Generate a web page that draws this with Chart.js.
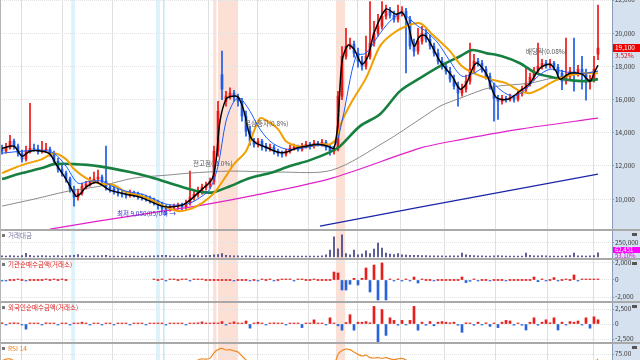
<!DOCTYPE html>
<html lang="ko">
<head>
<meta charset="utf-8">
<title>주가 차트</title>
<script src="https://cdn.jsdelivr.net/npm/chart.js@4.4.1/dist/chart.umd.min.js"></script>
<style>
  html, body { margin: 0; padding: 0; background: #fff; overflow: hidden; }
  body { position: relative; width: 640px; height: 360px; }
  canvas { position: absolute; left: 0; }
  .sep { position: absolute; left: 0; width: 640px; height: 2px; background: #a9a9a9; z-index: 2; }
  .edge { position: absolute; left: 0; top: 0; width: 1px; height: 360px; background: #b5b5b5; z-index: 2; }
</style>
</head>
<body>
<canvas id="price" width="640" height="229" style="top:0"></canvas>
<div class="sep" style="top:229px"></div>
<canvas id="vol" width="640" height="27" style="top:231px"></canvas>
<div class="sep" style="top:258px"></div>
<canvas id="inst" width="640" height="41" style="top:260px"></canvas>
<div class="sep" style="top:301px"></div>
<canvas id="frgn" width="640" height="39" style="top:303px"></canvas>
<div class="sep" style="top:342px"></div>
<canvas id="rsi" width="640" height="56" style="top:344px"></canvas>
<div class="edge"></div>
<script>
// daily candles, index 0..149
var opens = [13010,12890,13130,13490,13190,12770,12410,12890,13070,13010,
  12890,12950,13010,12770,12290,11810,11570,11210,10600,10120,
  10360,10780,10900,11080,11210,11330,11080,10720,10600,10480,
  10360,10300,10240,10360,10300,10180,10120,10060,9940,9820,
  9640,9460,9400,9520,9580,9640,9520,9760,10120,10300,
  10480,10720,10840,11080,12890,17500,15900,16210,16390,16150,
  15900,15000,14100,13490,13310,13490,13190,13070,13130,12890,
  12770,12710,12890,13070,13130,13010,13190,13310,13190,13370,
  13310,13430,13130,12890,13010,16210,18610,19220,19340,18800,
  18310,18010,18610,19400,20000,20420,21020,21330,21080,20840,
  21200,21330,20840,19220,18920,19520,20000,19640,19220,18800,
  18310,18010,17710,17230,16810,16390,16630,17110,17830,18310,
  18190,17830,17410,16810,16080,15900,16080,16020,16140,16020,
  16390,16630,16990,17350,17710,18010,18190,18070,18190,17950,
  17590,17110,17410,17710,17590,17830,17590,17110,17230,18730];
var closes = [12890,13130,13490,13190,12770,12410,12890,13070,13010,12890,
  12950,13010,12770,12290,11810,11570,11210,10600,10120,10360,
  10780,10900,11080,11210,11330,11080,10720,10600,10480,10360,
  10300,10240,10360,10300,10180,10120,10060,9940,9820,9640,
  9460,9400,9520,9580,9640,9520,9760,10120,10300,10480,
  10720,10840,11080,12890,15300,16630,16210,16390,16150,15900,
  15000,14100,13490,13310,13490,13190,13070,13130,12890,12770,
  12710,12890,13070,13130,13010,13190,13310,13190,13370,13310,
  13430,13130,12890,13010,16210,18610,19220,19340,18800,18310,
  18010,18610,19400,20000,20420,21020,21330,21080,20840,21200,
  21330,20840,19220,18920,19520,20000,19640,19220,18800,18310,
  18010,17710,17230,16810,16390,16630,17110,17830,18310,18190,
  17830,17410,16810,16080,15900,16080,16020,16140,16020,16390,
  16630,16990,17350,17710,18010,18190,18070,18190,17950,17590,
  17110,17410,17710,17590,17830,17590,17110,17230,17830,19100];
var highs = [13250,13370,13850,13620,13310,12950,13190,15780,13310,13250,
  13490,13370,13130,12890,12470,12050,11690,11330,10780,10600,
  10960,11080,11330,11630,11750,11450,13190,10900,10780,10660,
  10540,10420,10540,10480,10420,10300,10240,10180,10060,9940,
  9820,9640,9640,9700,9760,9760,9940,11690,10480,10720,
  10900,11020,11270,13190,15900,18920,16500,16700,16560,16330,
  16080,15300,14400,13670,13670,13610,13370,13310,13250,13010,
  12890,13010,13250,13310,13250,13370,13490,13430,13550,13490,
  13610,13550,13250,13130,16500,19200,20300,19700,19520,19100,
  18610,19820,21900,20720,21140,21900,21700,21560,21330,21700,
  21600,21500,21020,19640,20300,20420,20240,19880,19400,19040,
  18550,18250,17950,17470,17050,16930,17470,19400,18730,18490,
  18370,18010,17590,16990,16260,16260,16200,16330,16260,16570,
  16810,18000,17590,17950,19400,18430,18370,18430,18310,18130,
  17770,19700,17950,19700,18070,18610,17830,17470,18610,21700];
var lows = [12710,12770,13010,13010,12590,12230,12290,12770,12890,12710,
  12770,12830,12590,12110,11630,11390,11020,10420,9580,9940,
  10240,10600,10780,10960,11020,10900,10540,10420,10300,10180,
  10120,10060,10120,10120,10000,9940,9880,9760,9640,9400,
  9220,9050,9280,9340,9400,9340,9400,9640,9940,10120,
  10300,10540,10660,10900,12590,16000,15600,16020,15900,15600,
  14700,13790,13250,13130,13130,12950,12890,12890,12710,12590,
  12530,12590,12770,12950,12890,12890,13070,13010,13070,13190,
  13190,12950,12650,12710,12900,16000,18430,19040,18550,17950,
  17770,17830,18430,19220,19820,20240,20840,20900,20660,20660,
  21020,17600,19040,18610,18740,19340,19460,19040,18610,18130,
  17830,17530,17050,16630,15600,16200,16450,16930,17650,18010,
  17650,17230,16630,14700,14800,15720,15840,15900,15840,15900,
  16200,16450,16810,17170,17530,17830,17890,17890,17770,17410,
  16600,16930,17230,16500,17410,16630,15960,16630,17050,18400];

// moving averages (candle index, price)
var ma5Idx = [0,3,5,7,10,12,13.5,16,18.5,19.5,21,23.5,25,27,31,34.5,37.5,40,42,45,
  47,49.5,52.5,53.5,54.5,56,57.5,59,60.5,62,63.5,66,69,71,73.5,76,79,81.5,83,84,
  85,86.5,88,90,91.5,93,96,98.5,100,101.5,103,104.5,106,109.5,112.5,114.5,116,118.5,121,123.5,
  126.5,129.5,132,134.5,137,138.5,139.5,142,145,147,148,149];
var ma5 = [13070,13190,12590,12890,12890,12710,12110,11210,10180,10300,10720,11020,10840,10540,10300,10120,9820,9580,9520,9640,
  9940,10480,11210,12290,14700,16020,16200,16150,15300,13800,13370,13130,12830,12830,13070,13190,13310,13190,13070,14700,
  18310,19280,19040,18130,18610,20000,21450,21140,21260,20540,19220,19820,19820,18310,17410,16630,16930,18190,17590,16140,
  16020,16510,16990,17890,18130,17710,17230,17590,17530,17110,17590,18070];
var ma10Idx = [0,5,10,13,16,19,22,25,28,31,35,38,41,44,47,50,52,54,56,58,
  59.5,62,64,67,71,75,79,83,85,88.5,91,94,97,100,102,104,106,109,112,115,
  118,120,122,125,128,131,134,137,140,143,146,149];
var ma10 = [12770,12890,12950,12770,11990,10960,11080,11080,10720,10480,10300,10000,9700,9640,9760,10180,10600,11990,14700,15900,
  16080,15300,14400,13490,13010,13070,13250,13190,14700,18610,18800,19820,20720,21200,20840,20420,20120,19400,18310,17410,
  17590,17830,17230,16510,16200,16630,17410,17830,17710,17590,17590,17710];
var ma20Idx = [0,5,10,13,16,18,21,24,28,31,35,38,41,44,47,50,53,56,58,61,
  63,64.5,66,69,71,74,77,80,82,83.5,85,87.5,91,94.5,97.5,101,104.5,107.5,112,115,
  118.5,122,126,129.5,132,134.5,138,142,146,149];
var ma20 = [11570,12050,12410,12770,12410,11810,11270,10960,10840,10420,10180,9880,9520,9280,9400,9760,10360,11390,12110,12890,
  14100,14880,14760,14220,13490,13190,13190,13310,13310,13610,14700,15900,17290,19220,19940,20420,20600,19940,18920,18010,
  17530,17230,16990,16510,16390,16630,17110,17470,17590,17590];
var ma60Idx = [0,5,10,13,18,24,32,37,42,47,50,53,57,62,67,72,77,82,84.5,89.5,
  94.5,99.5,104.5,109.5,114.5,117.5,121,125,129.5,133.5,137.5,142,146,149];
var ma60 = [11210,11570,11870,12110,12110,11990,11630,11330,10960,10600,10420,10420,10780,11270,11570,11990,12350,12830,13190,14400,
  15120,16510,17290,18010,18610,18980,18800,18610,18190,17590,17350,17170,17110,17230];
var ma120Idx = [0,8,16.5,24.5,33,41.5,47,57,69.5,82.5,96,104.5,109.5,114.5,122.5,132,137.5,149];
var ma120 = [9580,10000,10480,10780,11270,11450,11570,11690,11630,11750,13490,14820,15600,16080,16750,16990,17290,17710];
var ma240Idx = [12,24,37,50,62,82.5,104.5,112.5,129.5,149];
var ma240 = [8190,8670,9160,9640,10180,11270,13070,13490,14220,14880];
var ma480Idx = [79.5,104.5,149];
var ma480 = [8370,9520,11510];

var volume = [22000,18000,25000,20000,15000,24000,65000,30000,18000,20000,
  26000,19000,17000,21000,23000,18000,20000,26000,30000,45000,
  22000,18000,16000,20000,19000,24000,30000,18000,15000,17000,
  16000,14000,15000,18000,16000,15000,17000,20000,22000,25000,
  28000,30000,20000,17000,16000,18000,20000,35000,24000,22000,
  20000,24000,28000,40000,45000,60000,30000,26000,22000,20000,
  18000,22000,19000,17000,16000,15000,17000,18000,16000,15000,
  16000,17000,15000,14000,16000,18000,17000,15000,16000,18000,
  20000,40000,125000,360000,145000,395000,60000,40000,125000,40000,
  50000,110000,60000,143000,250000,160000,70000,50000,45000,60000,
  40000,35000,30000,28000,30000,26000,24000,22000,20000,22000,
  20000,18000,19000,20000,22000,70000,40000,30000,26000,22000,
  20000,18000,17000,22000,25000,20000,18000,16000,17000,15000,
  16000,70000,30000,22000,20000,24000,20000,18000,17000,16000,
  18000,20000,24000,70000,22000,20000,18000,22000,25000,75000];
var institution = [-120,-80,0,0,60,0,-60,0,0,0,
  0,80,0,60,0,80,0,null,null,null,
  null,null,null,null,null,null,null,null,null,null,
  null,null,null,null,null,null,null,null,60,0,
  80,-60,80,60,0,80,60,-80,60,80,
  60,0,0,0,0,0,0,0,-80,0,
  0,0,-80,0,-60,80,0,80,-100,0,
  80,60,80,-80,80,60,0,0,80,0,
  0,0,0,940,820,-1180,-1180,-500,200,-590,
  200,1410,-1410,1760,-2350,2000,-2350,80,-100,80,
  -120,100,-100,350,-350,80,0,0,-60,0,
  0,0,0,0,0,350,-300,-150,80,-80,
  0,0,-60,0,0,0,-60,0,0,0,
  0,0,0,350,-200,80,-100,0,280,-60,
  0,80,0,590,-100,100,80,60,100,80];
var foreign = [200,-150,150,200,150,-100,-860,150,100,150,
  -150,200,150,100,-100,150,100,-100,150,150,
  300,150,-150,100,150,-100,150,100,-150,150,
  100,150,-100,150,100,150,-150,100,150,100,
  150,-100,150,100,150,150,-150,100,150,200,
  350,150,100,200,150,400,-150,150,350,150,
  150,500,-690,150,300,150,-150,150,200,150,
  150,-150,150,100,150,-600,150,150,690,150,
  150,-150,1030,150,-300,-1030,250,1550,-1030,300,
  300,400,200,2930,-3100,2410,-1900,1030,600,-200,
  600,-150,600,2930,-1030,300,-200,400,-300,300,
  400,300,200,300,-200,-1380,200,150,-200,300,
  -150,200,-400,150,-600,300,600,500,-200,150,
  -200,-1000,300,1030,-200,300,700,200,1030,-1000,
  300,-150,400,300,500,-150,1030,-700,1200,700];
var rsi = [58,62,63,58,52,48,52,54,53,51,
  52,53,50,44,38,36,33,28,25,32,
  40,42,45,47,48,44,40,38,36,35,
  34,33,36,35,33,32,31,30,28,26,
  24,23,28,30,32,30,38,48,55,60,
  63,62,64,78,86,89,85,86,83,80,
  70,60,52,50,52,48,46,47,44,42,
  41,44,47,48,46,49,51,49,52,51,
  53,48,44,47,74,84,87,86,80,74,
  70,72,66,65,66,64,66,63,61,63,
  64,60,52,50,54,57,54,50,47,44,
  42,40,37,35,33,36,42,50,54,53,
  50,46,41,35,34,36,35,37,36,40,
  43,47,50,54,57,58,56,58,55,51,
  46,49,52,51,53,50,46,47,53,63];

var priceTicks = [10000,12000,14000,16000,18000,20000,22000];
var volTicks = [250000];
var instTicks = [-2000,0,2000];
var frgnTicks = [-2500,0,2500];
var rsiTicks = [25,50,75];

// month boundaries and marked periods (candle index)
var monthStarts = [4.75,15,27.5,40.25,51.5,63.75,76.5,88.75,99.5,110.5,123.25,136.25,147.75];
var blueBands = [[17.3,18.3],[38.5,39.5],[40.3,40.8]];
var redBands = [[52.8,53.6],[54,59],[83.5,85.8]];

var noteIdx = [131,60.75,47.75,28.75];
var notePrice = [18920,14580,12170,9160];
var noteText = ["배당락(0.08%)","무상증자(0.8%)","전고점(-1.0%)","최저 9,050(05/04) →"];

var FONT = '"Noto Sans CJK KR", "DejaVu Sans", sans-serif';
Chart.defaults.font.family = FONT;

var decor = {
    id: "decor",
    beforeDraw: function (chart, args, o) {
        var ctx = chart.ctx, a = chart.chartArea, x = chart.scales.x;
        ctx.save();
        ctx.fillStyle = "#d5e1ef";
        ctx.fillRect(a.right, 0, chart.width - a.right, chart.height);
        function band(r, c) {
            var x0 = x.getPixelForValue(r[0]), x1 = x.getPixelForValue(r[1]);
            ctx.fillStyle = c;
            ctx.fillRect(x0, a.top, x1 - x0, a.bottom - a.top);
        }
        blueBands.forEach(function (r) { band(r, "#dcf3fb"); });
        redBands.forEach(function (r) { band(r, "#fde0d5"); });
        ctx.strokeStyle = "#e0e0e0";
        ctx.lineWidth = 1;
        monthStarts.forEach(function (m) {
            var px = Math.round(x.getPixelForValue(m)) + 0.5;
            ctx.beginPath();
            ctx.moveTo(px, a.top);
            ctx.lineTo(px, a.bottom);
            ctx.stroke();
        });
        ctx.restore();
    },
    afterDraw: function (chart, args, o) {
        if (!o.label) return;
        var ctx = chart.ctx;
        ctx.save();
        ctx.fillStyle = "#777";
        ctx.fillRect(2, 3, 3, 3);
        ctx.font = "6.5px " + FONT;
        ctx.fillStyle = o.color;
        ctx.textBaseline = "middle";
        ctx.fillText(o.label, 8, 5);
        ctx.fillStyle = "#555";
        ctx.fillRect(chart.width - 8, 2, 5, 3);
        ctx.restore();
    }
};

var priceMarks = {
    id: "priceMarks",
    afterDatasetsDraw: function (chart) {
        var ctx = chart.ctx, x = chart.scales.x, y = chart.scales.y;
        ctx.save();
        ctx.font = "6.5px " + FONT;
        ctx.textBaseline = "middle";
        for (var k = 0; k < noteText.length; k++) {
            ctx.fillStyle = k === 3 ? "#2f2fc8" : "#555";
            ctx.fillText(noteText[k], x.getPixelForValue(noteIdx[k]), y.getPixelForValue(notePrice[k]));
        }
        ctx.restore();
    },
    afterDraw: function (chart) {
        var ctx = chart.ctx, y = chart.scales.y, a = chart.chartArea;
        var last = closes[closes.length - 1];
        var py = Math.round(y.getPixelForValue(last));
        ctx.save();
        ctx.fillStyle = "#f00000";
        ctx.fillRect(a.right + 1, py - 4, chart.width - a.right - 1, 8);
        ctx.font = "6.5px " + FONT;
        ctx.textBaseline = "middle";
        ctx.fillStyle = "#fff";
        ctx.fillText(last.toLocaleString("en-US"), a.right + 3, py);
        ctx.fillStyle = "#f00000";
        ctx.fillText("3.52%", a.right + 3, py + 8);
        ctx.restore();
    }
};

var volMark = {
    id: "volMark",
    afterDraw: function (chart) {
        var ctx = chart.ctx, a = chart.chartArea, py = Math.round(chart.scales.y.getPixelForValue(125000));
        ctx.save();
        ctx.fillStyle = "#ff00ff";
        ctx.fillRect(a.right + 1, py - 3, chart.width - a.right - 1, 6);
        ctx.font = "6px " + FONT;
        ctx.textBaseline = "middle";
        ctx.fillStyle = "#fff";
        ctx.fillText("62,451", a.right + 3, py);
        ctx.fillStyle = "#e000e0";
        ctx.fillText("53.10%", a.right + 3, py + 6);
        ctx.restore();
    }
};

function xAxis() {
    return { type: "linear", min: -0.5, max: 152.5, offset: false, display: false };
}

function yAxis(min, max, ticks, fmt) {
    return {
        position: "right", min: min, max: max,
        afterFit: function (s) {
            s.width = 28;
            s.paddingTop = 0;
            s.paddingBottom = 0;
        },
        afterBuildTicks: function (s) { s.ticks = ticks.map(function (v) { return { value: v }; }); },
        ticks: { autoSkip: false, padding: 1, color: "#3a3a3a", font: { size: 6.5 }, callback: fmt },
        grid: { color: "#e4e4e4", tickLength: 2, tickColor: "#8a9cb6" },
        border: { display: true, color: "#8a9cb6", dash: [1, 1] }
    };
}

function num(v) { return Number(v).toLocaleString("en-US"); }

function baseOptions(yOpts, decorOpts) {
    return {
        responsive: false, animation: false, devicePixelRatio: 1,
        layout: { autoPadding: false, padding: 0 },
        scales: { x: xAxis(), y: yOpts },
        plugins: { legend: { display: false }, tooltip: { enabled: false }, decor: decorOpts }
    };
}

function upDown(ctx) {
    return closes[ctx.dataIndex] >= opens[ctx.dataIndex] ? "#f01414" : "#1e5ae6";
}

function signColor(ctx) {
    var v = ctx.raw ? ctx.raw.y : 0;
    return v < 0 ? "#2a62d8" : "#e61e1e";
}

function maLine(idx, vals, color, w, order) {
    return {
        type: "line",
        data: idx.map(function (x, k) { return { x: x, y: vals[k] }; }),
        borderColor: color, borderWidth: w, pointRadius: 0, tension: 0.3, order: order
    };
}

function series(vals) {
    return vals.map(function (v, i) { return { x: i, y: v }; });
}

new Chart(document.getElementById("price"), {
    type: "bar",
    data: {
        datasets: [
            maLine(ma5Idx, ma5, "#000000", 1.5, 0),
            maLine(ma10Idx, ma10, "#1a5cff", 1, 1),
            maLine(ma20Idx, ma20, "#f0a000", 2, 2),
            maLine(ma60Idx, ma60, "#178040", 2.6, 3),
            maLine(ma120Idx, ma120, "#6e6e6e", 0.8, 4),
            maLine(ma240Idx, ma240, "#e020c8", 1.2, 5),
            maLine(ma480Idx, ma480, "#1a24a8", 1.2, 6),
            {
                data: highs.map(function (h, i) { return { x: i, y: [lows[i], h] }; }),
                backgroundColor: upDown, barThickness: 1, grouped: false, order: 11
            },
            {
                data: opens.map(function (o, i) { return { x: i, y: [o, closes[i]] }; }),
                backgroundColor: upDown, barThickness: 2, grouped: false, minBarLength: 1, order: 10
            }
        ]
    },
    options: baseOptions(yAxis(8200, 22000, priceTicks, num), {}),
    plugins: [decor, priceMarks]
});

new Chart(document.getElementById("vol"), {
    type: "bar",
    data: { datasets: [{ data: series(volume), backgroundColor: "#3d3d84", barThickness: 1, grouped: false, minBarLength: 1 }] },
    options: baseOptions(yAxis(-18000, 464000, volTicks, num), { label: "거래대금", color: "#7a7aa0" }),
    plugins: [decor, volMark]
});

new Chart(document.getElementById("inst"), {
    type: "bar",
    data: { datasets: [{ data: series(institution), backgroundColor: signColor, barThickness: 2, grouped: false, minBarLength: 1 }] },
    options: baseOptions(yAxis(-2470, 2350, instTicks, num), { label: "기관순매수금액(거래소)", color: "#e02020" }),
    plugins: [decor]
});

new Chart(document.getElementById("frgn"), {
    type: "bar",
    data: { datasets: [{ data: series(foreign), backgroundColor: signColor, barThickness: 2, grouped: false, minBarLength: 1 }] },
    options: baseOptions(yAxis(-3000, 3500, frgnTicks, num), { label: "외국인순매수금액(거래소)", color: "#e02020" }),
    plugins: [decor]
});

new Chart(document.getElementById("rsi"), {
    type: "line",
    data: { datasets: [{ data: series(rsi), borderColor: "#f08a24", borderWidth: 1.2, pointRadius: 0, tension: 0.2 }] },
    options: baseOptions(yAxis(-40, 100, rsiTicks, function (v) { return Number(v).toFixed(2); }), { label: "RSI 14", color: "#f08020" }),
    plugins: [decor]
});
</script>
</body>
</html>
